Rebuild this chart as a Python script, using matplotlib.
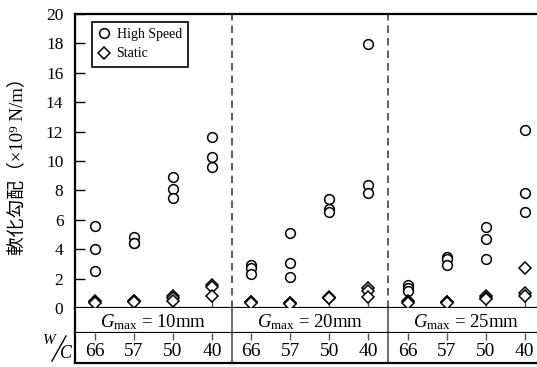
import numpy as np
import matplotlib
matplotlib.use("Agg")
import matplotlib.pyplot as plt
from matplotlib.lines import Line2D

plt.rcParams["font.family"] = ["Liberation Serif", "Noto Sans CJK JP"]
plt.rcParams["mathtext.fontset"] = "custom"
plt.rcParams["mathtext.rm"] = "Liberation Serif"
plt.rcParams["mathtext.it"] = "Liberation Serif:italic"

# categories
wc_labels = ["66", "57", "50", "40"]
gmax_labels = ["10mm", "20mm", "25mm"]

# softening slope (x10^9 N/m), three specimens per W/C, in order G10, G20, G25
high_speed = [
    [5.55, 4.0, 2.55],
    [4.85, 4.45, 4.4],
    [8.9, 8.1, 7.45],
    [11.65, 10.25, 9.6],
    [2.95, 2.75, 2.3],
    [5.08, 3.04, 2.08],
    [7.4, 6.75, 6.55],
    [17.95, 8.4, 7.8],
    [1.55, 1.35, 1.15],
    [3.45, 3.3, 2.93],
    [5.5, 4.7, 3.35],
    [12.1, 7.85, 6.55],
]
static = [
    [0.5, 0.42, 0.35],
    [0.5, 0.45, 0.4],
    [0.82, 0.65, 0.5],
    [1.55, 1.4, 0.8],
    [0.42, 0.38, 0.35],
    [0.35, 0.32, 0.3],
    [0.75, 0.7, 0.65],
    [1.35, 1.15, 0.72],
    [0.45, 0.38, 0.32],
    [0.42, 0.38, 0.35],
    [0.85, 0.7, 0.58],
    [2.75, 1.0, 0.8],
]

W, H = 537, 367
fig = plt.figure(figsize=(W / 100, H / 100), dpi=100)

left = 74.5 / W
ax = fig.add_axes([left, (H - 308) / H, 1 - left + 0.01, 294 / H])
axg = fig.add_axes([left, (H - 333) / H, 1 - left + 0.01, 25 / H])
axw = fig.add_axes([left, (H - 363) / H, 1 - left + 0.01, 30 / H])

n = len(high_speed)
xpos = np.arange(n)
xlim = (-0.52, n - 0.55)
sep = [3.5, 7.5]
lw_frame = 1.6

# scatter data
for i in range(n):
    ax.plot([xpos[i]] * len(high_speed[i]), high_speed[i], linestyle="none",
            marker="o", ms=7, mfc="white", mec="black", mew=1.1, zorder=3)
for i in range(n):
    ax.plot([xpos[i]] * len(static[i]), static[i], linestyle="none",
            marker="D", ms=5.8, mfc="white", mec="black", mew=1.1, zorder=4)

# legend handles
h1, = ax.plot([], [], linestyle="none", marker="o", ms=7, mfc="white",
              mec="black", mew=1.1, label="High Speed")
h2, = ax.plot([], [], linestyle="none", marker="D", ms=5.8, mfc="white",
              mec="black", mew=1.1, label="Static")
leg = ax.legend(handles=[h1, h2], loc="upper left",
                bbox_to_anchor=(0.038, 0.973), borderaxespad=0,
                fancybox=False, edgecolor="black", framealpha=1,
                fontsize=10, handlelength=0.8, handletextpad=0.5,
                borderpad=0.45, labelspacing=0.45)
leg.get_frame().set_linewidth(1.2)

for s in sep:
    ax.axvline(s, color="#444444", lw=1.2, linestyle=(0, (4.5, 3)), zorder=1)

ax.set_xlim(*xlim)
ax.set_ylim(0, 20)
ax.set_yticks(np.arange(0, 21, 2))
ax.set_xticks(xpos)
ax.set_xticklabels([])
ax.tick_params(axis="y", direction="in", length=7, width=1, labelsize=12.5, pad=8)
ax.tick_params(axis="x", direction="in", length=6, width=1, color="#555555")
for side in ["top", "left", "bottom"]:
    ax.spines[side].set_linewidth(lw_frame)
ax.spines["right"].set_visible(False)

# G_max row
axg.set_xlim(*xlim)
axg.set_ylim(0, 1)
axg.set_xticks([])
axg.set_yticks([])
for side in ["top", "right"]:
    axg.spines[side].set_visible(False)
for side in ["left", "bottom"]:
    axg.spines[side].set_linewidth(lw_frame)
for s in sep:
    axg.axvline(s, color="#555555", lw=1.2)
for g, lab in enumerate(gmax_labels):
    axg.text(4 * g + 1.5, 0.45, r"$G_{\rm max}$ = " + lab, ha="center",
             va="center", fontsize=13.5)

# W/C row
axw.set_xlim(*xlim)
axw.set_ylim(0, 1)
axw.set_yticks([])
axw.set_xticks(xpos)
axw.set_xticklabels([])
axw.xaxis.set_ticks_position("top")
axw.tick_params(axis="x", direction="in", length=5, width=1, color="#555555")
for side in ["top", "right"]:
    axw.spines[side].set_visible(False)
for side in ["left", "bottom"]:
    axw.spines[side].set_linewidth(lw_frame)
for s in sep:
    axw.axvline(s, color="#555555", lw=1.2)
for i in range(n):
    axw.text(xpos[i], 0.4, wc_labels[i % 4], ha="center", va="center",
             fontsize=14)

# W/C label: raised W, slanted bar, lowered C
fig.text(49 / W, 1 - 341 / H, "W", style="italic", fontsize=11,
         ha="center", va="center")
fig.add_artist(Line2D([52 / W, 66 / W], [1 - 361 / H, 1 - 336 / H],
                      transform=fig.transFigure, color="black", lw=1.0))
fig.text(66 / W, 1 - 354 / H, "C", style="italic", fontsize=13,
         ha="center", va="center")

# y axis title
fig.text(17 / W, 1 - 162 / H, "軟化勾配（×10⁹ N/m）", rotation=90,
         ha="center", va="center", fontsize=13.5)

fig.savefig("out.png", dpi=100)
